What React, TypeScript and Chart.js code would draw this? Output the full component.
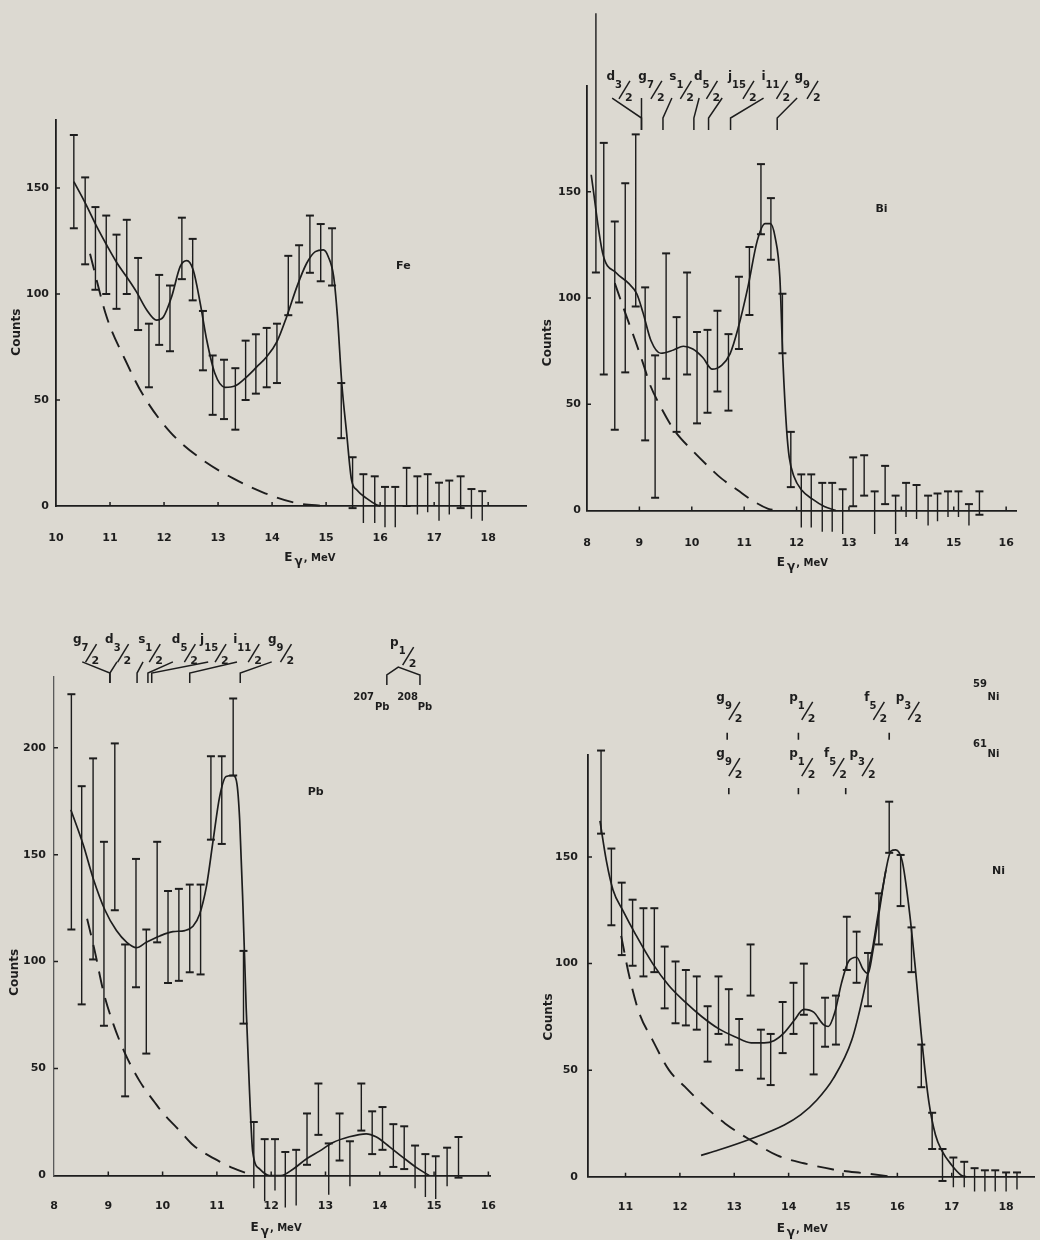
import React, { useEffect, useRef } from 'react';
import { Chart, registerables } from 'chart.js';

Chart.register(...registerables);

const INK = '#1d1d1d';
const PAPER = '#dcd9d1';
const FONT = '"DejaVu Sans", "Liberation Sans", sans-serif';

// ======================= DATA =======================
// ---- Fe ----
const feE = [10.33, 10.54, 10.73, 10.93, 11.12, 11.31, 11.52, 11.72, 11.91, 12.11, 12.33, 12.53, 12.72, 12.9, 13.11, 13.32, 13.51, 13.7, 13.9, 14.09, 14.3, 14.5, 14.7, 14.9, 15.11, 15.28, 15.49, 15.69, 15.9, 16.09, 16.28, 16.49, 16.69, 16.88, 17.09, 17.28, 17.49, 17.69, 17.89];
const feHi = [175, 155, 141, 137, 128, 135, 117, 86, 109, 104, 136, 126, 92, 71, 69, 65, 78, 81, 84, 86, 118, 123, 137, 133, 131, 58, 23, 15, 14, 9, 9, 18, 14, 15, 11, 12, 14, 8, 7];
const feLo = [131, 114, 102, 100, 93, 100, 83, 56, 76, 73, 107, 97, 64, 43, 41, 36, 50, 53, 56, 58, 90, 96, 110, 106, 104, 32, -1, -8, -8, -10, -10, 0, -4, -3, -7, -4, -1, -6, -7];
const feFitE = [10.33, 10.54, 10.75, 10.94, 11.12, 11.31, 11.49, 11.68, 11.86, 11.99, 12.14, 12.3, 12.42, 12.54, 12.67, 12.79, 12.94, 13.13, 13.31, 13.5, 13.72, 13.9, 14.09, 14.27, 14.46, 14.64, 14.8, 14.95, 15.04, 15.14, 15.21, 15.29, 15.38, 15.47, 15.57, 15.75, 15.94, 16.0];
const feFitV = [153, 143, 132, 123, 115, 108, 101, 92.5, 87.7, 89.3, 98.7, 113, 115.7, 111.3, 95.6, 78.3, 62.6, 56, 56.6, 60.2, 65.7, 70.4, 77.5, 89.3, 103.5, 114.5, 120, 120.8, 117.6, 108.2, 89.3, 57.9, 34.3, 12.3, 7.5, 3.6, 0.5, 0];
const feBgE = [10.63, 10.94, 11.28, 11.62, 12.11, 12.67, 13.28, 13.87, 14.46, 14.98];
const feBgV = [119, 89, 69, 52, 35, 22.5, 13, 6, 1.3, 0];
const feXTicks = [10, 11, 12, 13, 14, 15, 16, 17, 18];
const feYTicks = [0, 50, 100, 150];

// ---- Bi ----
const biE = [8.17, 8.32, 8.53, 8.73, 8.93, 9.11, 9.3, 9.51, 9.71, 9.91, 10.1, 10.3, 10.49, 10.7, 10.9, 11.1, 11.32, 11.51, 11.73, 11.89, 12.09, 12.28, 12.49, 12.68, 12.88, 13.08, 13.29, 13.49, 13.69, 13.89, 14.09, 14.29, 14.51, 14.69, 14.89, 15.09, 15.29, 15.49];
const biHi = [234, 173, 136, 154, 177, 105, 73, 121, 91, 112, 84, 85, 94, 83, 110, 124, 163, 147, 102, 37, 17, 17, 13, 13, 10, 25, 26, 9, 21, 7, 13, 12, 7, 8, 9, 9, 3, 9];
const biLo = [112, 64, 38, 65, 96, 33, 6, 62, 37, 64, 41, 46, 56, 47, 76, 92, 130, 118, 74, 11, -8, -8, -10, -10, -11, 2, 7, -11, 3, -11, -3, -4, -7, -5, -3, -3, -7, -2];
const biFitE = [8.08, 8.3, 8.55, 8.79, 8.95, 9.07, 9.22, 9.41, 9.65, 9.84, 10.02, 10.21, 10.39, 10.57, 10.73, 10.88, 11.07, 11.25, 11.4, 11.5, 11.59, 11.68, 11.74, 11.81, 11.86, 11.95, 12.1, 12.29, 12.53, 12.75];
const biFitV = [158, 121, 112, 107, 102, 93, 80, 74, 75.5, 77.3, 76, 72, 66.5, 68.3, 73.7, 85.4, 105, 127, 135, 135, 128.6, 110, 70, 38, 25, 16, 9.5, 5.6, 1.9, 0];
const biBgE = [8.53, 8.73, 8.92, 9.1, 9.19, 9.38, 9.66, 10.02, 10.39, 10.57, 10.88, 11.15, 11.46, 11.67];
const biBgV = [107, 93, 80, 67, 60, 50, 38, 28, 19, 15, 9.5, 4.8, 0.8, 0];
const biXTicks = [8, 9, 10, 11, 12, 13, 14, 15, 16];
const biYTicks = [0, 50, 100, 150];

// ---- Pb ----
const pbE = [8.32, 8.51, 8.72, 8.92, 9.12, 9.31, 9.51, 9.7, 9.9, 10.1, 10.3, 10.5, 10.7, 10.89, 11.09, 11.3, 11.49, 11.68, 11.88, 12.07, 12.26, 12.46, 12.66, 12.87, 13.06, 13.26, 13.45, 13.66, 13.86, 14.05, 14.25, 14.45, 14.65, 14.84, 15.03, 15.24, 15.45];
const pbHi = [225, 182, 195, 156, 202, 108, 148, 115, 156, 133, 134, 136, 136, 196, 196, 223, 105, 25, 17, 17, 11, 12, 29, 43, 15, 29, 16, 43, 30, 32, 24, 23, 14, 10, 9, 13, 18];
const pbLo = [115, 80, 101, 70, 124, 37, 88, 57, 109, 90, 91, 95, 94, 157, 155, 187, 71, -6, -12, -7, -15, -14, 5, 19, -9, 7, -5, 21, 10, 12, 4, 3, -6, -10, -11, -5, -1];
const pbFitE = [8.31, 8.54, 8.72, 8.94, 9.15, 9.34, 9.52, 9.7, 9.95, 10.19, 10.41, 10.56, 10.68, 10.81, 10.93, 11.05, 11.17, 11.3, 11.37, 11.42, 11.48, 11.54, 11.6, 11.66, 11.79, 11.97, 12.18, 12.4, 12.64, 12.89, 13.13, 13.44, 13.75, 13.93, 14.18, 14.42, 14.67, 14.91];
const pbFitV = [171, 154.5, 139, 124, 114.5, 109, 106.5, 109, 112, 114, 114.5, 116.5, 122, 135.5, 156.5, 177, 186.5, 187, 183, 166, 126, 78, 40, 11, 3, 0, 0, 2.9, 7.6, 11.4, 15.3, 18.1, 19.5, 18.1, 13.4, 8.6, 3.8, 0];
const pbBgE = [8.61, 8.75, 8.91, 9.09, 9.31, 9.58, 9.86, 9.98, 10.35, 10.56, 11.05, 11.3, 11.66];
const pbBgV = [120, 105, 86, 71, 57, 44, 34, 30, 20, 14.3, 6.5, 3.4, 0];
const pbXTicks = [8, 9, 10, 11, 12, 13, 14, 15, 16];
const pbYTicks = [0, 50, 100, 150, 200];

// ---- Ni ----
const niE = [10.55, 10.74, 10.93, 11.13, 11.33, 11.53, 11.72, 11.92, 12.11, 12.31, 12.51, 12.71, 12.9, 13.09, 13.3, 13.49, 13.67, 13.89, 14.09, 14.28, 14.46, 14.67, 14.87, 15.07, 15.25, 15.46, 15.66, 15.85, 16.06, 16.26, 16.44, 16.64, 16.83, 17.03, 17.23, 17.42, 17.61, 17.8, 18.0, 18.2];
const niHi = [200, 154, 138, 130, 126, 126, 108, 101, 97, 94, 80, 94, 88, 74, 109, 69, 67, 82, 91, 100, 72, 84, 85, 122, 115, 105, 133, 176, 151, 117, 62, 30, 13, 9, 7, 4, 3, 3, 2, 2];
const niLo = [161, 118, 104, 99, 94, 96, 79, 72, 71, 69, 54, 67, 62, 50, 85, 46, 43, 58, 67, 76, 48, 61, 62, 97, 91, 80, 109, 152, 127, 96, 42, 13, -2, -5, -5, -7, -7, -7, -7, -6];
const niFitE = [10.53, 10.65, 10.77, 10.95, 11.19, 11.5, 11.8, 12.1, 12.4, 12.71, 13.01, 13.31, 13.55, 13.73, 13.92, 14.1, 14.28, 14.46, 14.64, 14.73, 14.85, 14.97, 15.1, 15.25, 15.37, 15.46, 15.55, 15.67, 15.79, 15.88, 15.97, 16.09, 16.21, 16.33, 16.45, 16.58, 16.7, 16.82, 17.0, 17.18, 17.27];
const niFitV = [167, 148, 134.6, 125, 113.5, 100, 89.6, 81.9, 75.2, 69.5, 65.7, 62.8, 62.8, 63.8, 67.6, 73.3, 78.5, 77.2, 71.4, 70.5, 77.2, 90.6, 101, 103, 97.3, 95.3, 106, 125, 144, 152.8, 153.4, 148, 127, 98, 64, 35, 19.7, 12.1, 5.4, 0.6, 0];
const niPeakE = [12.39, 12.71, 13.3, 13.92, 14.22, 14.52, 14.82, 15.16, 15.37, 15.55, 15.67, 15.79];
const niPeakV = [10, 12.5, 17.7, 24.3, 29, 36, 46, 64, 85, 108, 127, 144];
const niBgE = [10.92, 11.07, 11.25, 11.5, 11.8, 12.1, 12.46, 12.83, 13.31, 13.79, 14.28, 14.82, 15.43, 15.91];
const niBgV = [113, 94, 77, 64, 50, 42, 33, 25, 17, 10, 6.3, 3.4, 1.5, 0];
const niXTicks = [11, 12, 13, 14, 15, 16, 17, 18];
const niYTicks = [0, 50, 100, 150];

// ---- single-particle level annotations (energies in MeV) ----
type Level = { l: string; n: string; d: string; E: number; fromE?: number; markE?: number };
const biLevels: Level[] = [
  { l: 'd', n: '3', d: '2', E: 8.37, fromE: 8.48, markE: 9.04 },
  { l: 'g', n: '7', d: '2', E: 8.98, fromE: 9.04, markE: 9.04 },
  { l: 's', n: '1', d: '2', E: 9.57, fromE: 9.62, markE: 9.45 },
  { l: 'd', n: '5', d: '2', E: 10.04, fromE: 10.14, markE: 10.04 },
  { l: 'j', n: '15', d: '2', E: 10.69, fromE: 10.58, markE: 10.32 },
  { l: 'i', n: '11', d: '2', E: 11.33, fromE: 11.37, markE: 10.74 },
  { l: 'g', n: '9', d: '2', E: 11.96, fromE: 12.01, markE: 11.63 },
];
const pbLevels: Level[] = [
  { l: 'g', n: '7', d: '2', E: 8.35, fromE: 8.52, markE: 9.03 },
  { l: 'd', n: '3', d: '2', E: 8.94, fromE: 9.16, markE: 9.03 },
  { l: 's', n: '1', d: '2', E: 9.55, fromE: 9.64, markE: 9.53 },
  { l: 'd', n: '5', d: '2', E: 10.17, fromE: 10.19, markE: 9.73 },
  { l: 'j', n: '15', d: '2', E: 10.69, fromE: 10.84, markE: 9.8 },
  { l: 'i', n: '11', d: '2', E: 11.3, fromE: 11.37, markE: 10.5 },
  { l: 'g', n: '9', d: '2', E: 11.94, fromE: 12.01, markE: 11.43 },
];
const pbP12: Level[] = [{ l: 'p', n: '1', d: '2', E: 14.19 }];
const ni59Levels: Level[] = [
  { l: 'g', n: '9', d: '2', E: 12.67 },
  { l: 'p', n: '1', d: '2', E: 14.01 },
  { l: 'f', n: '5', d: '2', E: 15.39 },
  { l: 'p', n: '3', d: '2', E: 15.97 },
];
const ni61Levels: Level[] = [
  { l: 'g', n: '9', d: '2', E: 12.67 },
  { l: 'p', n: '1', d: '2', E: 14.01 },
  { l: 'f', n: '5', d: '2', E: 14.65 },
  { l: 'p', n: '3', d: '2', E: 15.12 },
];
const ni59Marks = [12.87, 14.18, 15.85];
const ni61Marks = [12.9, 14.18, 15.05];

// ======================= LAYOUT / DRAWING =======================
type Row = { levels: Level[]; v: number; lineV?: [number, number, number]; marks?: number[]; markV?: [number, number] };
type Txt = { s: string; E: number; v: number; size: number; align?: CanvasTextAlign };
type Path = [number, number][];
interface Panel {
  key: string;
  box: { left: number; top: number; width: number; height: number };
  padTop: number; padRight: number; yAxisW: number; xAxisH: number;
  xMin: number; xMax: number; yMax: number;
  xTicks: number[]; yTicks: number[];
  yLabelPad: number; xLabelPad: number;
  E: number[]; hi: number[]; lo: number[];
  curves: { E: number[]; V: number[]; dashed?: boolean }[];
  rows: Row[]; texts: Txt[]; paths: Path[];
  yTitleV: number; xTitleE: number;
  yAxisDash?: number[]; yAxisColor?: string;
}

const PANELS: Panel[] = [
  {
    key: 'fe', box: { left: 0, top: 0, width: 540, height: 600 },
    padTop: 120.16, padRight: 14, yAxisW: 56, xAxisH: 94,
    xMin: 10, xMax: 18.7, yMax: 182, xTicks: feXTicks, yTicks: feYTicks,
    yLabelPad: 7, xLabelPad: 26,
    E: feE, hi: feHi, lo: feLo,
    curves: [{ E: feFitE, V: feFitV }, { E: feBgE, V: feBgV, dashed: true }],
    rows: [], texts: [{ s: 'Fe', E: 16.43, v: 112, size: 11, align: 'center' }], paths: [],
    yTitleV: 82, xTitleE: 14.7,
  },
  {
    key: 'bi', box: { left: 520, top: 0, width: 520, height: 600 },
    padTop: 85.5, padRight: 8, yAxisW: 67, xAxisH: 89.5,
    xMin: 8, xMax: 16.195, yMax: 200, xTicks: biXTicks, yTicks: biYTicks,
    yLabelPad: 6, xLabelPad: 26,
    E: biE, hi: biHi, lo: biLo,
    curves: [{ E: biFitE, V: biFitV }, { E: biBgE, V: biBgV, dashed: true }],
    rows: [{ levels: biLevels, v: 202.6, lineV: [194.1, 184.7, 179.1] }],
    texts: [{ s: 'Bi', E: 13.62, v: 140.5, size: 11, align: 'center' }], paths: [],
    yTitleV: 79, xTitleE: 12.11,
  },
  {
    key: 'pb', box: { left: 0, top: 600, width: 540, height: 640 },
    padTop: 77.1, padRight: 50, yAxisW: 54, xAxisH: 64.5,
    xMin: 8, xMax: 16.03, yMax: 233, xTicks: pbXTicks, yTicks: pbYTicks,
    yLabelPad: 8, xLabelPad: 24,
    E: pbE, hi: pbHi, lo: pbLo,
    curves: [{ E: pbFitE, V: pbFitV }, { E: pbBgE, V: pbBgV, dashed: true }],
    rows: [
      { levels: pbLevels, v: 248.9, lineV: [240.1, 234.9, 230.3] },
      { levels: pbP12, v: 247.5 },
    ],
    texts: [
      { s: 'Pb', E: 12.82, v: 178, size: 11, align: 'center' },
      { s: '207', E: 13.51, v: 222.3, size: 10 },
      { s: 'Pb', E: 13.91, v: 217.6, size: 10 },
      { s: '208', E: 14.32, v: 222.3, size: 10 },
      { s: 'Pb', E: 14.7, v: 217.6, size: 10 },
    ],
    paths: [[[14.13, 229.3], [14.13, 234], [14.34, 237.7], [14.74, 234], [14.74, 229.3]]],
    yTitleV: 95, xTitleE: 12.09,
    yAxisDash: [7, 4], yAxisColor: '#5a5a5a',
  },
  {
    key: 'ni', box: { left: 520, top: 600, width: 520, height: 640 },
    padTop: 154.8, padRight: 0, yAxisW: 68, xAxisH: 63.3,
    xMin: 10.31, xMax: 18.513, yMax: 198, xTicks: niXTicks, yTicks: niYTicks,
    yLabelPad: 10, xLabelPad: 24,
    E: niE, hi: niHi, lo: niLo,
    curves: [{ E: niFitE, V: niFitV }, { E: niPeakE, V: niPeakV }, { E: niBgE, V: niBgV, dashed: true }],
    rows: [
      { levels: ni59Levels, v: 223.3, marks: ni59Marks, markV: [208.4, 205.1] },
      { levels: ni61Levels, v: 196.9, marks: ni61Marks, markV: [182.4, 179.5] },
    ],
    texts: [
      { s: 'Ni', E: 17.86, v: 142, size: 11, align: 'center' },
      { s: '59', E: 17.39, v: 229.7, size: 10 },
      { s: 'Ni', E: 17.66, v: 223.6, size: 10 },
      { s: '61', E: 17.39, v: 201.6, size: 10 },
      { s: 'Ni', E: 17.66, v: 196.9, size: 10 },
    ],
    paths: [],
    yTitleV: 75, xTitleE: 14.25,
  },
];

function pts(E: number[], V: number[]) {
  return E.map((e, i) => ({ x: e, y: V[i] }));
}
function errPts(E: number[], hi: number[], lo: number[]) {
  const out: { x: number; y: number | null }[] = [];
  E.forEach((e, i) => {
    out.push({ x: e, y: lo[i] }, { x: e, y: hi[i] }, { x: e, y: null });
  });
  return out;
}

function drawLevel(ctx: CanvasRenderingContext2D, x: number, y: number, lv: Level) {
  ctx.textAlign = 'left';
  ctx.textBaseline = 'alphabetic';
  ctx.font = `bold 12px ${FONT}`;
  ctx.fillText(lv.l, x, y);
  const x1 = x + ctx.measureText(lv.l).width;
  ctx.font = `bold 10px ${FONT}`;
  ctx.fillText(lv.n, x1, y + 8);
  const x2 = x1 + ctx.measureText(lv.n).width;
  ctx.lineWidth = 1.5;
  ctx.beginPath();
  ctx.moveTo(x2 - 3, y + 19);
  ctx.lineTo(x2 + 8, y + 1);
  ctx.stroke();
  ctx.font = `bold 11px ${FONT}`;
  ctx.fillText(lv.d, x2 + 3, y + 21);
}

function makeDeco(p: Panel) {
  return {
    id: 'deco_' + p.key,
    afterDraw(chart: any) {
      const ctx: CanvasRenderingContext2D = chart.ctx;
      const xs = chart.scales.x;
      const ys = chart.scales.y;
      const ca = chart.chartArea;
      const X = (e: number) => xs.getPixelForValue(e);
      const Y = (v: number) => ys.getPixelForValue(v);
      ctx.save();
      ctx.strokeStyle = INK;
      ctx.fillStyle = INK;
      // inward tick marks
      ctx.lineWidth = 1.5;
      ctx.beginPath();
      for (const t of p.xTicks) {
        const px = X(t);
        if (px <= ca.left + 2) continue;
        ctx.moveTo(px, ca.bottom);
        ctx.lineTo(px, ca.bottom - 4);
      }
      for (const t of p.yTicks) {
        const py = Y(t);
        if (py >= ca.bottom - 2) continue;
        ctx.moveTo(ca.left, py);
        ctx.lineTo(ca.left + 4, py);
      }
      ctx.stroke();

      // level rows
      for (const row of p.rows) {
        for (const lv of row.levels) {
          drawLevel(ctx, X(lv.E), Y(row.v), lv);
          if (row.lineV && lv.fromE !== undefined && lv.markE !== undefined) {
            ctx.lineWidth = 1.5;
            ctx.beginPath();
            ctx.moveTo(X(lv.fromE), Y(row.lineV[0]));
            ctx.lineTo(X(lv.markE), Y(row.lineV[1]));
            ctx.lineTo(X(lv.markE), Y(row.lineV[2]));
            ctx.stroke();
          }
        }
        if (row.marks && row.markV) {
          ctx.lineWidth = 1.6;
          ctx.beginPath();
          for (const m of row.marks) {
            ctx.moveTo(X(m), Y(row.markV[0]));
            ctx.lineTo(X(m), Y(row.markV[1]));
          }
          ctx.stroke();
        }
      }
      // paths
      ctx.lineWidth = 1.5;
      for (const path of p.paths) {
        ctx.beginPath();
        path.forEach(([e, v], i) => (i ? ctx.lineTo(X(e), Y(v)) : ctx.moveTo(X(e), Y(v))));
        ctx.stroke();
      }
      // texts
      for (const t of p.texts) {
        ctx.font = `bold ${t.size}px ${FONT}`;
        ctx.textAlign = t.align || 'left';
        ctx.textBaseline = 'alphabetic';
        ctx.fillText(t.s, X(t.E), Y(t.v));
      }
      // y title
      ctx.save();
      ctx.translate(ca.left - 39, Y(p.yTitleV));
      ctx.rotate(-Math.PI / 2);
      ctx.font = `bold 12px ${FONT}`;
      ctx.textAlign = 'center';
      ctx.textBaseline = 'middle';
      ctx.fillText('Counts', 0, 0);
      ctx.restore();
      // x title: E with subscript gamma
      ctx.textAlign = 'left';
      ctx.textBaseline = 'alphabetic';
      ctx.font = `bold 12px ${FONT}`;
      const wE = ctx.measureText('E').width;
      const wG = ctx.measureText('γ').width;
      ctx.font = `bold 10px ${FONT}`;
      const wM = ctx.measureText(', MeV').width;
      const total = wE + 2 + wG + 1 + wM;
      const sx = X(p.xTitleE) - total / 2;
      const by = ca.bottom + 55;
      ctx.font = `bold 12px ${FONT}`;
      ctx.fillText('E', sx, by);
      ctx.fillText('γ', sx + wE + 2, by + 4);
      ctx.font = `bold 10px ${FONT}`;
      ctx.fillText(', MeV', sx + wE + 2 + wG + 1, by);
      ctx.restore();
    },
  };
}

function buildConfig(p: Panel): any {
  const tickFont = { family: FONT, size: 11, weight: 'bold' as const };
  const datasets: any[] = [
    {
      data: errPts(p.E, p.hi, p.lo),
      showLine: true,
      spanGaps: false,
      borderColor: INK,
      borderWidth: 1.4,
      pointStyle: 'line',
      pointRadius: 4,
      pointBorderWidth: 2,
      pointBorderColor: INK,
      pointBackgroundColor: INK,
      pointHoverRadius: 0,
      clip: false,
    },
  ];
  for (const c of p.curves) {
    datasets.push({
      data: pts(c.E, c.V),
      showLine: true,
      borderColor: INK,
      borderWidth: c.dashed ? 1.9 : 1.7,
      borderDash: c.dashed ? [17, 10] : [],
      pointRadius: 0,
      pointHoverRadius: 0,
      cubicInterpolationMode: 'monotone',
      clip: false,
    });
  }
  return {
    type: 'scatter',
    data: { datasets },
    options: {
      animation: false,
      responsive: false,
      devicePixelRatio: 1,
      events: [],
      layout: { padding: { left: 0, top: p.padTop, right: p.padRight, bottom: 0 } },
      plugins: { legend: { display: false }, tooltip: { enabled: false }, title: { display: false } },
      scales: {
        x: {
          type: 'linear',
          position: 'bottom',
          min: p.xMin,
          max: p.xMax,
          grid: { display: false, drawTicks: false },
          border: { display: true, color: INK, width: 1.8 },
          ticks: { font: tickFont, color: INK, padding: p.xLabelPad, maxRotation: 0, autoSkip: false },
          afterBuildTicks: (s: any) => {
            s.ticks = p.xTicks.map((v) => ({ value: v }));
          },
          afterFit: (s: any) => {
            s.height = p.xAxisH;
          },
        },
        y: {
          type: 'linear',
          position: 'left',
          min: 0,
          max: p.yMax,
          grid: { display: false, drawTicks: false },
          border: { display: true, color: p.yAxisColor || INK, width: p.yAxisDash ? 1.3 : 1.8, dash: p.yAxisDash || [] },
          ticks: { font: tickFont, color: INK, padding: p.yLabelPad, autoSkip: false },
          afterBuildTicks: (s: any) => {
            s.ticks = p.yTicks.map((v) => ({ value: v }));
          },
          afterFit: (s: any) => {
            s.width = p.yAxisW;
          },
        },
      },
    },
    plugins: [makeDeco(p)],
  };
}

function PanelChart({ p }: { p: Panel }) {
  const ref = useRef<HTMLCanvasElement>(null);
  useEffect(() => {
    const c = ref.current;
    if (!c) return;
    const chart = new Chart(c, buildConfig(p));
    return () => chart.destroy();
  }, [p]);
  return (
    <canvas
      ref={ref}
      width={p.box.width}
      height={p.box.height}
      style={{ position: 'absolute', left: p.box.left, top: p.box.top, width: p.box.width, height: p.box.height }}
    />
  );
}

export default function App() {
  return (
    <div style={{ position: 'absolute', left: 0, top: 0, width: 1040, height: 1240, background: PAPER, overflow: 'hidden' }}>
      {PANELS.map((p) => (
        <PanelChart key={p.key} p={p} />
      ))}
    </div>
  );
}
